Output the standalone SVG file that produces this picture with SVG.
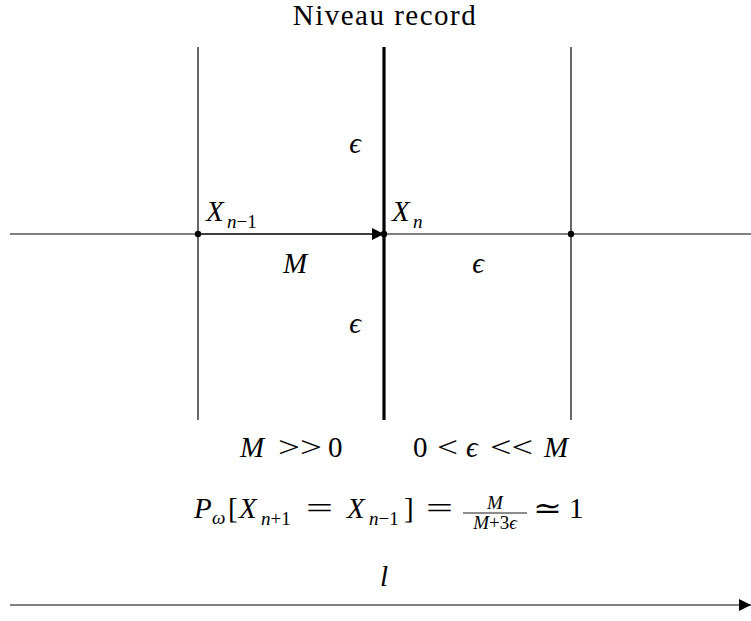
<svg xmlns="http://www.w3.org/2000/svg" width="751" height="621" viewBox="0 0 751 621">
<style>
text{font-family:"Liberation Serif","DejaVu Serif",serif;fill:#000;font-size:29px}
.m{font-style:italic}
.s{font-size:19px}
.thin{stroke:#000;stroke-width:1.2;fill:none}
.thick{stroke:#000;stroke-width:3.2;fill:none}
</style>
<defs>
<marker id="ah" viewBox="0 0 10 10" refX="10" refY="5" markerWidth="18" markerHeight="12" markerUnits="userSpaceOnUse" orient="auto"><path d="M0,0 L10,5 L0,10 z" fill="#000"/></marker>
</defs>
<rect width="751" height="621" fill="#fff"/>
<g id="lines">
<line class="thin" x1="198" y1="47" x2="198" y2="420"/>
<line class="thick" x1="384" y1="47" x2="384" y2="420"/>
<line class="thin" x1="571" y1="47" x2="571" y2="420"/>
<line class="thin" x1="10" y1="234" x2="751" y2="234"/>
</g>
<g id="connectors">
<line class="thin" x1="198" y1="234" x2="384" y2="234" marker-end="url(#ah)"/>
<line class="thin" x1="10" y1="605" x2="751" y2="605" marker-end="url(#ah)"/>
</g>
<g id="nodes">
<g id="node-xn1"><circle cx="198" cy="234" r="3.2" fill="#000"/>
<text x="206" y="221" class="m">X</text>
<text x="227" y="228" class="s"><tspan font-style="italic">n</tspan>−1</text></g>
<g id="node-xn"><circle cx="384" cy="234" r="3.2" fill="#000"/>
<text x="392" y="221" class="m">X</text>
<text x="413" y="228" class="s m">n</text></g>
<g id="node-right"><circle cx="571" cy="234" r="3.2" fill="#000"/></g>
</g>
<g id="labels">
<text x="385" y="25" font-size="21" letter-spacing="1.5" text-anchor="middle">Niveau record</text>
<text x="355" y="153" class="m" text-anchor="middle">ϵ</text>
<text x="355" y="333" class="m" text-anchor="middle">ϵ</text>
<text x="295" y="273" class="m" text-anchor="middle">M</text>
<text x="478" y="273" class="m" text-anchor="middle">ϵ</text>
<text x="252" y="457" class="m" text-anchor="middle">M</text>
<text x="278" y="457" textLength="44" lengthAdjust="spacingAndGlyphs">&gt;&gt;</text>
<text x="328" y="457">0</text>
<text x="413" y="457">0</text>
<text x="437" y="457" textLength="21" lengthAdjust="spacingAndGlyphs">&lt;</text>
<text x="466" y="457" class="m">ϵ</text>
<text x="490" y="457" textLength="43" lengthAdjust="spacingAndGlyphs">&lt;&lt;</text>
<text x="556" y="457" class="m" text-anchor="middle">M</text>
<text x="194" y="518" class="m">P</text>
<text x="212" y="524" class="s m">ω</text>
<text x="228" y="518">[</text>
<text x="239" y="518" class="m">X</text>
<text x="261" y="525" class="s"><tspan font-style="italic">n</tspan>+1</text>
<text x="306" y="518" textLength="27" lengthAdjust="spacingAndGlyphs">=</text>
<text x="347" y="518" class="m">X</text>
<text x="369" y="525" class="s"><tspan font-style="italic">n</tspan>−1</text>
<text x="404" y="518">]</text>
<text x="426" y="518" textLength="27" lengthAdjust="spacingAndGlyphs">=</text>
<text x="495" y="509" class="s m" text-anchor="middle">M</text>
<line x1="463" y1="513" x2="527" y2="513" stroke="#000" stroke-width="0.9"/>
<text x="495" y="529" class="s" text-anchor="middle"><tspan font-style="italic">M</tspan>+3<tspan font-style="italic">ϵ</tspan></text>
<text x="533" y="518" textLength="29" lengthAdjust="spacingAndGlyphs">≃</text>
<text x="569" y="518">1</text>
<text x="384" y="586" class="m" text-anchor="middle">l</text>
</g>
</svg>
